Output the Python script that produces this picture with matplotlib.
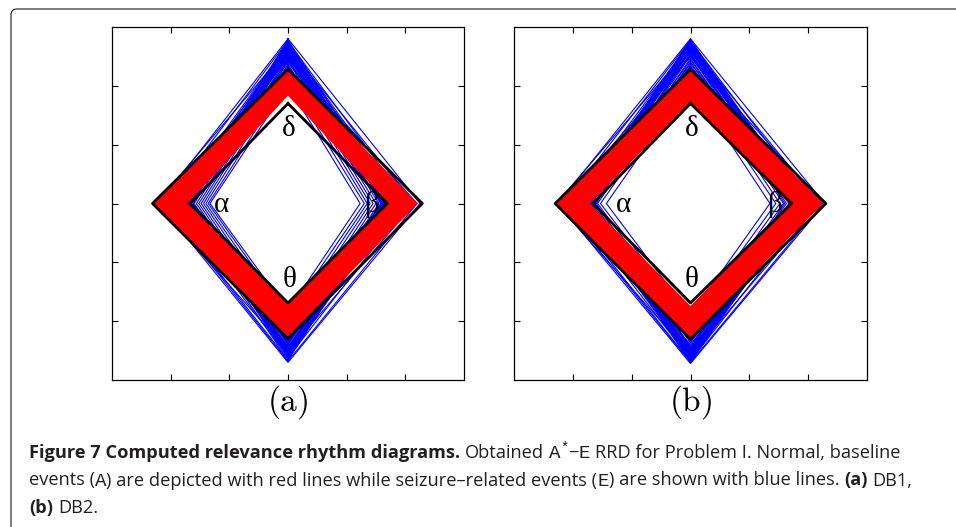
import matplotlib
matplotlib.use("Agg")
import matplotlib.pyplot as plt
from matplotlib.path import Path
from matplotlib.patches import PathPatch

plt.rcParams["mathtext.fontset"] = "cm"

# rhythm values per trace: delta (top), beta (right), theta (bottom), alpha (left)
red_a_delta = [2.25, 2.22, 2.20, 2.18, 2.17, 2.15, 2.13, 2.12, 2.10, 2.08, 2.06, 2.05, 2.03, 2.01, 1.99, 1.98, 1.96, 1.94, 1.92, 1.90, 1.88, 1.86]
red_a_beta = [2.19, 2.17, 2.15, 2.14, 2.12, 2.10, 2.08, 2.06, 2.05, 2.03, 2.01, 1.99, 1.97, 1.95, 1.93, 1.91, 1.89, 1.86, 1.84, 1.81, 1.78, 1.75]
red_a_theta = [2.23, 2.20, 2.18, 2.16, 2.14, 2.12, 2.10, 2.08, 2.06, 2.04, 2.02, 2.00, 1.98, 1.96, 1.94, 1.92, 1.89, 1.87, 1.84, 1.81, 1.77, 1.73]
red_a_alpha = [2.27, 2.24, 2.21, 2.18, 2.16, 2.13, 2.10, 2.08, 2.05, 2.03, 2.00, 1.98, 1.96, 1.93, 1.91, 1.88, 1.86, 1.84, 1.81, 1.79, 1.76, 1.74]

blue_a_delta = [2.80, 2.77, 2.75, 2.72, 2.70, 2.68, 2.66, 2.64, 2.62, 2.60, 2.58, 2.56, 2.54, 2.52, 2.50, 2.48, 2.46, 2.44, 2.42, 2.40,
                2.37, 2.34, 2.31, 2.27, 2.22, 2.16, 2.10, 2.04, 2.00, 2.45, 2.78, 2.74, 2.70, 2.66, 2.62, 2.58, 2.55, 2.52, 2.72, 2.68]
blue_a_beta = [2.25, 1.72, 2.05, 1.70, 1.90, 1.68, 2.15, 1.66, 1.80, 1.71, 1.64, 1.95, 1.62, 1.69, 1.58, 1.74, 1.55, 1.67, 1.50, 1.85,
               1.45, 1.65, 1.40, 1.60, 1.35, 1.72, 1.30, 1.62, 1.23, 2.20, 1.80, 1.85, 1.76, 1.82, 1.88, 1.78, 1.74, 1.80, 1.95, 1.73]
blue_a_theta = [2.70, 2.66, 2.62, 2.60, 2.57, 2.55, 2.52, 2.50, 2.48, 2.46, 2.44, 2.42, 2.40, 2.38, 2.36, 2.34, 2.32, 2.30, 2.27, 2.24,
                2.20, 2.15, 2.10, 2.05, 2.00, 1.95, 1.90, 1.85, 1.82, 2.68, 2.62, 2.58, 2.66, 2.54, 2.50, 2.47, 2.44, 2.56, 2.52, 2.48]
blue_a_alpha = [2.20, 2.10, 1.74, 1.98, 1.72, 1.85, 1.70, 2.25, 1.68, 1.78, 1.66, 1.92, 1.64, 1.73, 1.60, 2.05, 1.56, 1.71, 1.52, 1.69,
                1.48, 1.75, 1.44, 1.67, 1.40, 1.73, 1.36, 1.62, 1.33, 2.15, 1.76, 1.80, 1.82, 1.74, 1.86, 1.79, 1.83, 1.77, 1.90, 1.95]

red_b_delta = [2.25, 2.23, 2.21, 2.20, 2.18, 2.17, 2.15, 2.13, 2.12, 2.10, 2.08, 2.06, 2.04, 2.02, 2.00, 1.97, 1.94, 1.91, 1.87, 1.83, 1.79, 1.75]
red_b_beta = [2.23, 2.21, 2.18, 2.16, 2.13, 2.11, 2.08, 2.06, 2.03, 2.01, 1.98, 1.96, 1.94, 1.91, 1.89, 1.86, 1.84, 1.81, 1.79, 1.76, 1.73, 1.70]
red_b_theta = [2.25, 2.23, 2.20, 2.18, 2.16, 2.13, 2.11, 2.09, 2.06, 2.04, 2.02, 1.99, 1.97, 1.95, 1.92, 1.90, 1.88, 1.85, 1.83, 1.81, 1.79, 1.77]
red_b_alpha = [2.25, 2.23, 2.21, 2.19, 2.17, 2.15, 2.12, 2.10, 2.08, 2.05, 2.03, 2.00, 1.98, 1.95, 1.93, 1.90, 1.88, 1.85, 1.83, 1.80, 1.77, 1.74]

blue_b_delta = [2.80, 2.78, 2.76, 2.74, 2.72, 2.70, 2.68, 2.66, 2.64, 2.62, 2.60, 2.58, 2.56, 2.54, 2.52, 2.50, 2.47, 2.44, 2.41, 2.38,
                2.34, 2.30, 2.26, 2.22, 2.16, 2.10, 2.05, 2.50, 2.65, 2.35, 2.79, 2.77, 2.75, 2.73, 2.71, 2.69, 2.67, 2.63, 2.61, 2.59]
blue_b_beta = [2.28, 1.83, 2.10, 1.81, 1.98, 1.79, 2.20, 1.77, 1.90, 1.82, 1.75, 2.02, 1.73, 1.80, 1.70, 1.85, 1.67, 1.78, 1.63, 1.95,
               1.58, 1.76, 1.52, 1.70, 1.45, 1.74, 1.35, 2.25, 1.60, 1.81, 1.88, 1.95, 1.84, 1.90, 2.00, 1.86, 1.92, 1.84, 2.05, 1.87]
blue_b_theta = [2.72, 2.69, 2.67, 2.65, 2.63, 2.61, 2.59, 2.57, 2.55, 2.53, 2.51, 2.49, 2.47, 2.45, 2.43, 2.40, 2.37, 2.34, 2.31, 2.27,
                2.23, 2.18, 2.12, 2.06, 2.00, 1.95, 1.90, 2.70, 2.45, 2.60, 2.70, 2.66, 2.64, 2.62, 2.58, 2.56, 2.54, 2.52, 2.50, 2.48]
blue_b_alpha = [2.25, 2.15, 1.80, 2.05, 1.78, 1.95, 1.76, 2.28, 1.79, 1.85, 1.74, 2.00, 1.72, 1.77, 1.70, 2.10, 1.68, 1.75, 1.65, 1.78,
                1.62, 1.76, 1.58, 1.73, 1.53, 1.71, 1.43, 2.20, 1.60, 1.80, 1.84, 1.90, 1.96, 1.82, 1.92, 1.86, 2.02, 1.88, 1.83, 1.98]

# black reference diamonds (delta, beta, theta, alpha)
outer_a = [2.28, 2.29, 2.30, 2.31]
inner_a = [1.70, 1.69, 1.69, 1.67]
outer_b = [2.28, 2.30, 2.31, 2.30]
inner_b = [1.70, 1.72, 1.69, 1.66]

greek = ["\u03b4", "\u03b1", "\u03b2", "\u03b8"]
panel_labels = ["(a)", "(b)"]

W, H = 956, 527
fig = plt.figure(figsize=(W / 100, H / 100), dpi=100)


def diamond(ax, d, b, t, a, **kw):
    ax.plot([0, b, 0, -a, 0], [d, 0, -t, 0, d], **kw)


def draw_panel(ax, red, blue, outer, inner, label):
    for d, b, t, a in zip(*blue):
        diamond(ax, d, b, t, a, color="#0000ff", lw=0.8, zorder=2)
    for d, b, t, a in zip(*red):
        diamond(ax, d, b, t, a, color="#ff0000", lw=1.6, zorder=3)
    diamond(ax, *outer, color="black", lw=2.0, zorder=4)
    diamond(ax, *inner, color="black", lw=2.0, zorder=4)
    ax.set_xlim(-3, 3)
    ax.set_ylim(-3, 3)
    ax.set_xticks([-2, -1, 0, 1, 2])
    ax.set_yticks([-2, -1, 0, 1, 2])
    ax.tick_params(direction="in", length=4, width=0.8, top=True, right=True,
                   labelbottom=False, labelleft=False)
    for s in ax.spines.values():
        s.set_linewidth(0.9)
    gkw = dict(fontsize=21, family="Liberation Serif", ha="center", va="center", zorder=5)
    ax.text(0.02, 1.27, greek[0], **gkw)
    ax.text(-1.14, -0.03, greek[1], **gkw)
    ax.text(1.43, -0.02, greek[2], **gkw)
    ax.text(0.02, -1.30, greek[3], **gkw)
    ax.text(0.5, -0.062, r"$\mathrm{" + label + "}$", transform=ax.transAxes,
            ha="center", va="center", fontsize=24)


ax1 = fig.add_axes([112 / W, 1 - 380 / H, 352 / W, 353 / H])
ax2 = fig.add_axes([514 / W, 1 - 380 / H, 353 / W, 353 / H])
draw_panel(ax1, (red_a_delta, red_a_beta, red_a_theta, red_a_alpha),
           (blue_a_delta, blue_a_beta, blue_a_theta, blue_a_alpha), outer_a, inner_a, panel_labels[0])
draw_panel(ax2, (red_b_delta, red_b_beta, red_b_theta, red_b_alpha),
           (blue_b_delta, blue_b_beta, blue_b_theta, blue_b_alpha), outer_b, inner_b, panel_labels[1])

# frame with rounded top-left corner
verts = [(11 / W, 0), (11 / W, 1 - 15 / H), (11 / W, 1 - 9 / H), (17 / W, 1 - 9 / H), (1, 1 - 9 / H)]
codes = [Path.MOVETO, Path.LINETO, Path.CURVE3, Path.CURVE3, Path.LINETO]
fig.add_artist(PathPatch(Path(verts, codes), transform=fig.transFigure, fill=False,
                         edgecolor="#333333", lw=0.9))

# caption, drawn piece by piece
SANS = "Open Sans"
MONO = "Liberation Mono"
col = "#231f20"
renderer = fig.canvas.get_renderer()

lines = [
    [("Figure 7 Computed relevance rhythm diagrams.", "b"), (" ", "n"), ("Obtained", "n"), (" ", "n"),
     ("A", "m"), ("*", "s"), ("\u2212", "n"), ("E", "m"), (" ", "n"),
     ("RRD for Problem I. Normal, baseline", "n")],
    [("events (", "n"), ("A", "m"), (") are depicted with red lines while seizure\u2013related events (", "n"),
     ("E", "m"), (") are shown with blue lines.", "n"), (" ", "n"), ("(a)", "b"), (" ", "n"), ("DB1,", "n")],
    [("(b)", "b"), (" ", "n"), ("DB2.", "n")],
]


def props(style, size):
    if style == "b":
        return dict(family=SANS, weight="bold", fontsize=size)
    if style == "m":
        return dict(family=MONO, fontsize=size * 1.05)
    if style == "s":
        return dict(family=MONO, fontsize=size * 0.75)
    return dict(family=SANS, fontsize=size)


def width_of(s, style, size):
    if s == " ":
        a = fig.text(0, 0, "a a", **props(style, size))
        b = fig.text(0, 0, "aa", **props(style, size))
        w = a.get_window_extent(renderer).width - b.get_window_extent(renderer).width
        a.remove()
        b.remove()
        return w
    t = fig.text(0, 0, s, **props(style, size))
    w = t.get_window_extent(renderer).width
    t.remove()
    return w


def draw_line(runs, x0, y0, size):
    x = x0
    for s, style in runs:
        w = width_of(s, style, size)
        if s != " ":
            dy = 6 if style == "s" else 0
            fig.text(x / W, 1 - (y0 - dy) / H, s, color=col, va="baseline", **props(style, size))
        x += w
    return x - x0


base = 10.5
w1 = sum(width_of(s, st, base) for s, st in lines[0])
size = base * (906 - 29) / w1
for i, runs in enumerate(lines):
    draw_line(runs, 29, 458 + i * 27.5, size)

fig.savefig("out.png", dpi=100)
